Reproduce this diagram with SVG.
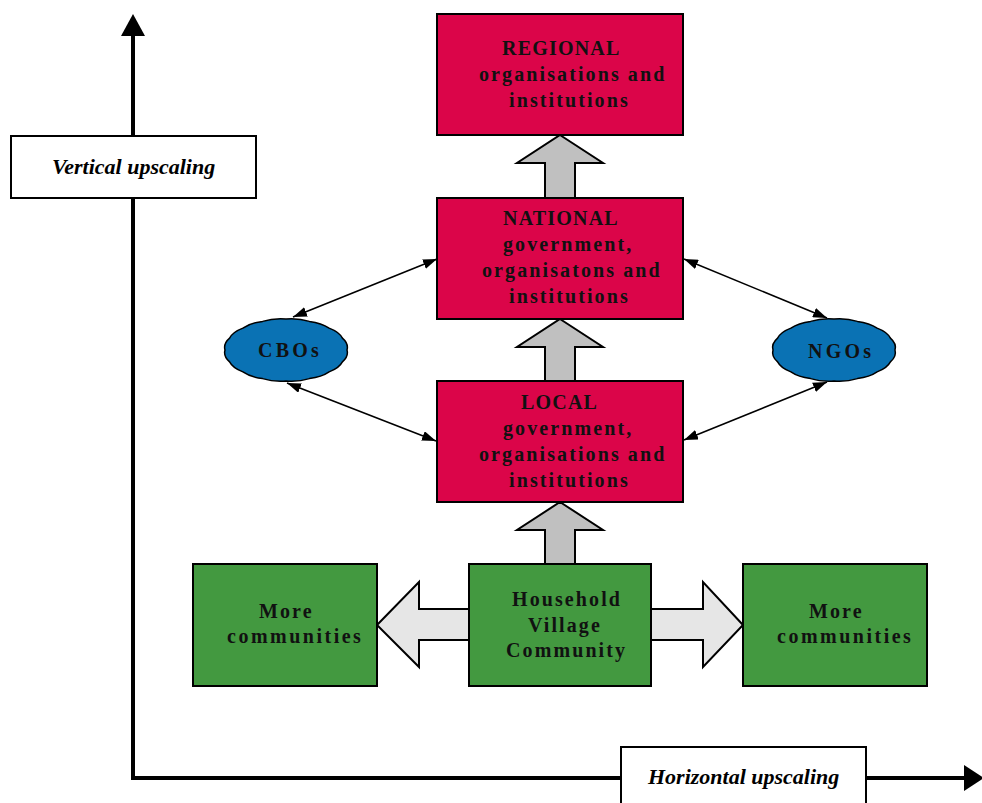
<svg xmlns="http://www.w3.org/2000/svg" width="982" height="803" viewBox="0 0 982 803">
<style>
.red{fill:#DB0549;stroke:#000;stroke-width:2}
.green{fill:#439940;stroke:#000;stroke-width:2}
.blue{fill:#0A72B4;stroke:#000;stroke-width:1.5}
.box{fill:#fff;stroke:#000;stroke-width:2}
.up{fill:#C0C0C0;stroke:#000;stroke-width:2}
.side{fill:#E6E6E6;stroke:#000;stroke-width:2}
.axis{stroke:#000;stroke-width:4;fill:none}
.thin{stroke:#000;stroke-width:1.6;fill:none;marker-start:url(#ah);marker-end:url(#ah)}
.t{font-family:"Liberation Serif","Times New Roman",serif;font-weight:bold;font-size:20px;fill:#111;letter-spacing:2.1px}
.h{letter-spacing:1.2px}
.w{letter-spacing:2.5px}
.o{letter-spacing:3.2px}
.it{font-family:"Liberation Serif","Times New Roman",serif;font-weight:bold;font-style:italic;font-size:22px;fill:#000}
</style>
<defs>
<marker id="ah" viewBox="0 0 14 10" refX="14" refY="5" markerWidth="14" markerHeight="10" markerUnits="userSpaceOnUse" orient="auto-start-reverse">
<path d="M0,0 L14,5 L0,10 Z" fill="#000"/>
</marker>
<path id="wavy" d="M61,0 Q62.8,6.4 56.4,11.9 Q53.2,18.1 43.1,21.9 Q35.6,27.1 23.4,28.6 Q12.5,32 0,31 Q-12.5,32 -23.4,28.6 Q-35.6,27.1 -43.1,21.9 Q-53.2,18.1 -56.4,11.9 Q-62.8,6.4 -61,0 Q-62.8,-6.4 -56.4,-11.9 Q-53.2,-18.1 -43.1,-21.9 Q-35.6,-27.1 -23.4,-28.6 Q-12.5,-32 0,-31 Q12.5,-32 23.4,-28.6 Q35.6,-27.1 43.1,-21.9 Q53.2,-18.1 56.4,-11.9 Q62.8,-6.4 61,0 Z"/>
</defs>
<rect width="982" height="803" fill="#fff"/>

<g id="connectors">
<line class="axis" x1="133" y1="34" x2="133" y2="778"/>
<line class="axis" x1="131" y1="778" x2="966" y2="778"/>
<polygon points="133,14 121,36 145,36" fill="#000"/>
<polygon points="984,778 964,765 964,791" fill="#000"/>
<polygon class="up" points="560,135 603,163 575,163 575,198 545,198 545,163 517,163"/>
<polygon class="up" points="560,319 603,347 575,347 575,381 545,381 545,347 517,347"/>
<polygon class="up" points="560,502 603,530 575,530 575,564 545,564 545,530 517,530"/>
<polygon class="side" points="377,625 419,582 419,609 469,609 469,640 419,640 419,667"/>
<polygon class="side" points="743,625 703,582 703,609 651,609 651,640 703,640 703,667"/>
<line class="thin" x1="293" y1="317" x2="437" y2="259"/>
<line class="thin" x1="287" y1="383" x2="436" y2="441"/>
<line class="thin" x1="684" y1="259" x2="827" y2="318"/>
<line class="thin" x1="684" y1="440" x2="827" y2="382"/>
</g>

<g id="vertical-label">
<rect class="box" x="11" y="136" width="245" height="62"/>
<text class="it" x="52" y="174">Vertical upscaling</text>
</g>
<g id="horizontal-label">
<rect class="box" x="621" y="747" width="245" height="62"/>
<text class="it" x="648" y="784">Horizontal upscaling</text>
</g>

<g id="regional">
<rect class="red" x="437" y="14" width="246" height="121"/>
<text class="t h" x="502" y="55">REGIONAL</text>
<text class="t" x="479" y="81">organisations and</text>
<text class="t" x="509" y="107">institutions</text>
</g>
<g id="national">
<rect class="red" x="437" y="198" width="246" height="121"/>
<text class="t h" x="503" y="225">NATIONAL</text>
<text class="t" x="503" y="251">government,</text>
<text class="t" x="482" y="277">organisatons and</text>
<text class="t" x="509" y="303">institutions</text>
</g>
<g id="local">
<rect class="red" x="437" y="381" width="246" height="121"/>
<text class="t h" x="521" y="409">LOCAL</text>
<text class="t" x="503" y="435">government,</text>
<text class="t" x="479" y="461">organisations and</text>
<text class="t" x="509" y="487">institutions</text>
</g>
<g id="cbos">
<use href="#wavy" class="blue" transform="translate(286,350)"/>
<text class="t o" x="258" y="357">CBOs</text>
</g>
<g id="ngos">
<use href="#wavy" class="blue" transform="translate(834,350)"/>
<text class="t o" x="808" y="358">NGOs</text>
</g>
<g id="household">
<rect class="green" x="469" y="564" width="182" height="122"/>
<text class="t" x="512" y="606">Household</text>
<text class="t" x="528" y="632">Village</text>
<text class="t" x="506" y="657">Community</text>
</g>
<g id="more-left">
<rect class="green" x="193" y="564" width="184" height="122"/>
<text class="t" x="259" y="618">More</text>
<text class="t w" x="227" y="643">communities</text>
</g>
<g id="more-right">
<rect class="green" x="743" y="564" width="184" height="122"/>
<text class="t" x="809" y="618">More</text>
<text class="t w" x="777" y="643">communities</text>
</g>
</svg>
